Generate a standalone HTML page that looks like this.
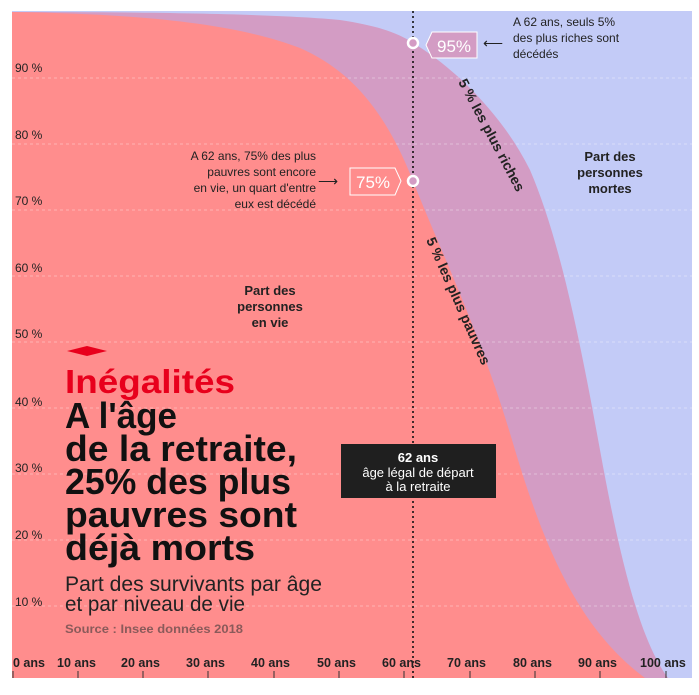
<!DOCTYPE html>
<html><head><meta charset="utf-8"><style>
html,body{margin:0;padding:0;background:#fff}
svg{display:block}
text{font-family:"Liberation Sans",sans-serif}
</style></head><body>
<svg width="699" height="695" viewBox="0 0 699 695" xmlns="http://www.w3.org/2000/svg">
<rect x="0" y="0" width="699" height="695" fill="#fff"/>
<rect x="12" y="11" width="680" height="667" fill="#c3cbf7"/>
<path d="M12,11 L12,12 C150,12 280,14 340,20 C380,26 400,34 413,43 C450,65 500,110 530,170 C560,240 580,340 600,450 C620,560 640,640 668,678 L12,678 Z" fill="#d39cc4"/>
<path d="M12,12 C150,14 240,25 300,48 C350,70 385,110 413,181 C440,250 480,330 515,450 C545,550 580,630 645,678 L12,678 Z" fill="#ff8d8d"/>
<g stroke="#fff" stroke-opacity="0.35" stroke-dasharray="3,3" stroke-width="1">
<line x1="12" y1="78" x2="692" y2="78"/><line x1="12" y1="144" x2="692" y2="144"/>
<line x1="12" y1="210" x2="692" y2="210"/><line x1="12" y1="276" x2="692" y2="276"/>
<line x1="12" y1="342" x2="692" y2="342"/><line x1="12" y1="408" x2="692" y2="408"/>
<line x1="12" y1="474" x2="692" y2="474"/><line x1="12" y1="540" x2="692" y2="540"/>
<line x1="12" y1="606" x2="692" y2="606"/>
</g>
<g font-size="12" fill="#222">
<text x="15" y="72">90 %</text><text x="15" y="139">80 %</text><text x="15" y="205">70 %</text>
<text x="15" y="272">60 %</text><text x="15" y="338">50 %</text><text x="15" y="406">40 %</text>
<text x="15" y="472">30 %</text><text x="15" y="539">20 %</text><text x="15" y="606">10 %</text>
</g>
<line x1="413" y1="11" x2="413" y2="678" stroke="#111" stroke-width="1.6" stroke-dasharray="2,3"/>
<g font-size="12.5" font-weight="bold" fill="#222">
<text x="13" y="667">0 ans</text><text x="57" y="667">10 ans</text><text x="121" y="667">20 ans</text>
<text x="186" y="667">30 ans</text><text x="251" y="667">40 ans</text><text x="317" y="667">50 ans</text>
<text x="382" y="667">60 ans</text><text x="447" y="667">70 ans</text><text x="513" y="667">80 ans</text>
<text x="578" y="667">90 ans</text><text x="640" y="667">100 ans</text>
</g>
<g stroke="#333" stroke-width="1">
<line x1="13" y1="671" x2="13" y2="678"/><line x1="78" y1="671" x2="78" y2="678"/><line x1="143" y1="671" x2="143" y2="678"/>
<line x1="208" y1="671" x2="208" y2="678"/><line x1="274" y1="671" x2="274" y2="678"/><line x1="339" y1="671" x2="339" y2="678"/>
<line x1="404" y1="671" x2="404" y2="678"/><line x1="470" y1="671" x2="470" y2="678"/><line x1="535" y1="671" x2="535" y2="678"/>
<line x1="600" y1="671" x2="600" y2="678"/><line x1="666" y1="671" x2="666" y2="678"/>
</g>
<path d="M432,32 L477,32 L477,58 L432,58 L426,45 Z" fill="#d39cc4" stroke="#fff" stroke-width="1"/>
<text x="437" y="52" font-size="17" fill="#fff">95%</text>
<circle cx="413" cy="43" r="5" fill="#d39cc4" stroke="#fff" stroke-width="2.5"/>
<text x="483" y="48" font-size="14" fill="#222">⟵</text>
<g font-size="12" fill="#222"><text x="513" y="26">A 62 ans, seuls 5%</text><text x="513" y="42">des plus riches sont</text><text x="513" y="58">décédés</text></g>
<path d="M350,168 L395,168 L401,181 L395,195 L350,195 Z" fill="#ff8d8d" stroke="#fff" stroke-width="1"/>
<text x="356" y="188" font-size="17" fill="#fff">75%</text>
<circle cx="413" cy="181" r="5" fill="#d39cc4" stroke="#fff" stroke-width="2.5"/>
<text x="318" y="186" font-size="14" fill="#222">⟶</text>
<g font-size="12" fill="#222" text-anchor="end"><text x="316" y="160">A 62 ans, 75% des plus</text><text x="316" y="176">pauvres sont encore</text><text x="316" y="192">en vie, un quart d'entre</text><text x="316" y="208">eux est décédé</text></g>
<text transform="translate(458,82) rotate(62)" font-size="14" font-weight="bold" fill="#222">5 % les plus riches</text>
<text transform="translate(426,240) rotate(66)" font-size="14" font-weight="bold" fill="#222">5 % les plus pauvres</text>
<g font-size="13" font-weight="bold" fill="#222" text-anchor="middle">
<text x="610" y="161">Part des</text><text x="610" y="177">personnes</text><text x="610" y="193">mortes</text>
<text x="270" y="295">Part des</text><text x="270" y="311">personnes</text><text x="270" y="327">en vie</text>
</g>
<rect x="341" y="444" width="155" height="54" fill="#1f1f1f"/>
<g fill="#fff" text-anchor="middle" font-size="13"><text x="418" y="462" font-weight="bold">62 ans</text><text x="418" y="477">âge légal de départ</text><text x="418" y="491">à la retraite</text></g>
<path d="M67,351 L87,346 L107,351 L87,356 Z" fill="#e8001c"/>
<text x="65" y="393" font-size="33" font-weight="bold" fill="#e8001c" textLength="170" lengthAdjust="spacingAndGlyphs">Inégalités</text>
<g font-size="36" font-weight="bold" fill="#111">
<text x="65" y="428" textLength="112" lengthAdjust="spacingAndGlyphs">A l'âge</text>
<text x="65" y="461" textLength="232" lengthAdjust="spacingAndGlyphs">de la retraite,</text>
<text x="65" y="494" textLength="226" lengthAdjust="spacingAndGlyphs">25% des plus</text>
<text x="65" y="527" textLength="232" lengthAdjust="spacingAndGlyphs">pauvres sont</text>
<text x="65" y="560" textLength="190" lengthAdjust="spacingAndGlyphs">déjà morts</text></g>
<g font-size="21" fill="#222"><text x="65" y="591" textLength="257" lengthAdjust="spacingAndGlyphs">Part des survivants par âge</text><text x="65" y="611" textLength="180" lengthAdjust="spacingAndGlyphs">et par niveau de vie</text></g>
<text x="65" y="633" font-size="12" font-weight="bold" fill="#8a5a5a" textLength="178" lengthAdjust="spacingAndGlyphs">Source : Insee données 2018</text>
</svg>
</body></html>
